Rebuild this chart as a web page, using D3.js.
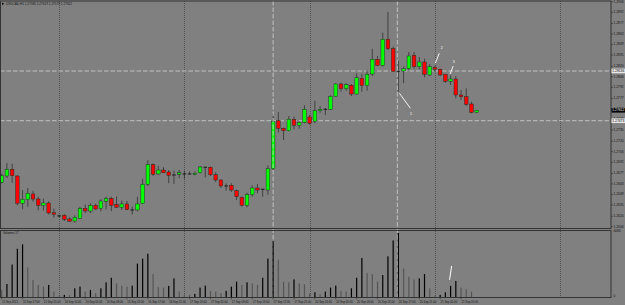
<!DOCTYPE html>
<html lang="en">
<head>
    <meta charset="UTF-8">
    <title>USDCAD,H1</title>
    <script src="https://d3js.org/d3.v7.min.js"></script>
    <style>
        body { margin: 0; background: #808080; }
        svg { display: block; }
        text { font-family: "Liberation Sans", Arial, sans-serif; }
    </style>
</head>
<body>
    <svg width="625" height="305"></svg>

    <script>
        // USDCAD H1 candles (index 0 = 15 Sep 13:00)
        const opens = [1.26652,1.26736,1.26825,1.26736,1.26372,1.26425,1.26496,1.26429,1.26345,1.26376,
            1.26247,1.26203,1.26212,1.26163,1.26136,1.26172,1.26305,1.26269,1.26345,1.26305,
            1.26399,1.26436,1.26356,1.26319,1.26363,1.26283,1.26283,1.26369,1.26625,1.26887,
            1.26763,1.26816,1.26789,1.26749,1.26759,1.26763,1.26763,1.26763,1.26780,1.26853,
            1.26852,1.26753,1.26683,1.26603,1.26612,1.26540,1.26452,1.26345,1.26487,1.26576,
            1.26559,1.26549,1.26833,1.27473,1.27372,1.27340,1.27492,1.27412,1.27452,1.27523,
            1.27465,1.27607,1.27625,1.27625,1.27799,1.27963,1.27900,1.27945,1.27829,1.28040,
            1.27943,1.28096,1.28292,1.28212,1.28559,1.28433,1.28132,1.28136,1.28167,1.28345,
            1.28194,1.28256,1.28083,1.28185,1.28159,1.28092,1.27999,1.28029,1.27816,1.27793,
            1.27696,1.27585];
        const highs = [1.26769,1.26909,1.26900,1.26749,1.26549,1.26576,1.26540,1.26460,1.26436,1.26399,
            1.26300,1.26220,1.26229,1.26185,1.26212,1.26327,1.26356,1.26372,1.26369,1.26425,
            1.26460,1.26460,1.26463,1.26407,1.26403,1.26327,1.26460,1.26699,1.26949,1.26905,
            1.26873,1.26852,1.26816,1.26807,1.26816,1.26807,1.26799,1.26799,1.26869,1.26860,
            1.26863,1.26789,1.26689,1.26639,1.26639,1.26556,1.26463,1.26513,1.26612,1.26629,
            1.26569,1.26879,1.27572,1.27589,1.27383,1.27536,1.27527,1.27463,1.27679,1.27549,
            1.27740,1.27669,1.27643,1.27812,1.27972,1.27980,1.27972,1.27963,1.28105,1.28100,
            1.28149,1.28433,1.28336,1.28647,1.28923,1.28460,1.28273,1.28194,1.28389,1.28389,
            1.28319,1.28300,1.28229,1.28203,1.28167,1.28099,1.28079,1.28069,1.27883,1.27905,
            1.27723,1.27619];
        const lows = [1.26636,1.26709,1.26643,1.26345,1.26292,1.26327,1.26393,1.26279,1.26276,1.26223,
            1.26180,1.26185,1.26136,1.26123,1.26113,1.26167,1.26243,1.26239,1.26283,1.26265,
            1.26289,1.26267,1.26309,1.26283,1.26280,1.26223,1.26265,1.26363,1.26603,1.26736,
            1.26749,1.26776,1.26639,1.26629,1.26705,1.26700,1.26753,1.26745,1.26772,1.26719,
            1.26736,1.26656,1.26576,1.26540,1.26523,1.26416,1.26327,1.26319,1.26460,1.26505,
            1.26460,1.26487,1.26816,1.27313,1.27216,1.27332,1.27359,1.27367,1.27439,1.27420,
            1.27439,1.27580,1.27549,1.27616,1.27793,1.27860,1.27873,1.27803,1.27820,1.27860,
            1.27873,1.28069,1.28203,1.28194,1.28416,1.28123,1.27860,1.27972,1.28149,1.28167,
            1.28159,1.28052,1.28069,1.28132,1.28069,1.27980,1.27949,1.27772,1.27749,1.27669,
            1.27572,1.27579];
        const closes = [1.26740,1.26825,1.26740,1.26372,1.26425,1.26505,1.26429,1.26345,1.26376,1.26243,
            1.26225,1.26203,1.26159,1.26132,1.26185,1.26305,1.26269,1.26343,1.26296,1.26403,
            1.26436,1.26345,1.26320,1.26363,1.26289,1.26283,1.26363,1.26625,1.26887,1.26760,
            1.26816,1.26780,1.26745,1.26749,1.26780,1.26763,1.26763,1.26772,1.26856,1.26853,
            1.26753,1.26683,1.26603,1.26603,1.26549,1.26460,1.26345,1.26487,1.26576,1.26549,
            1.26559,1.26833,1.27465,1.27372,1.27340,1.27492,1.27412,1.27452,1.27625,1.27439,
            1.27607,1.27625,1.27625,1.27799,1.27963,1.27900,1.27953,1.27829,1.28047,1.27943,
            1.28092,1.28292,1.28212,1.28559,1.28433,1.28132,1.28132,1.28167,1.28336,1.28194,
            1.28256,1.28092,1.28194,1.28159,1.28083,1.27999,1.28029,1.27816,1.27793,1.27692,
            1.27585,1.27612];
        // tick volumes
        const volumes = [462,822,1998,2958,3222,1818,1062,762,660,762,
            360,120,162,150,558,660,360,462,258,558,
            918,1200,858,702,660,720,2058,2358,2658,1422,
            618,600,702,1158,360,180,162,222,600,720,
            402,360,258,402,660,960,762,918,858,762,
            1200,2358,3420,2298,960,918,1098,858,798,240,
            318,198,360,600,720,402,360,558,1200,2400,
            1500,1422,960,1362,2502,3462,3918,1758,1260,1098,
            1158,1422,558,120,162,318,702,1002,600,498,
            360,17];

        const timeTickIdx = [0,4,8,12,16,20,24,28,32,36,40,44,48,52,56,60,64,68,72,76,80,84,88];
        const timeLabels = ["15 Sep 2021","15 Sep 17:00","15 Sep 21:00","16 Sep 01:00","16 Sep 05:00",
            "16 Sep 09:00","16 Sep 13:00","16 Sep 17:00","16 Sep 21:00","17 Sep 01:00","17 Sep 05:00",
            "17 Sep 09:00","17 Sep 13:00","17 Sep 17:00","17 Sep 21:00","20 Sep 01:00","20 Sep 05:00",
            "20 Sep 09:00","20 Sep 13:00","20 Sep 17:00","20 Sep 21:00","21 Sep 01:00","21 Sep 05:00"];
        const priceTicks = [1.2906,1.2892,1.2877,1.2863,1.2849,1.2835,1.2820,1.2806,1.2792,1.2777,1.2763,
            1.2749,1.2735,1.2720,1.2706,1.2692,1.2677,1.2663,1.2649,1.2635,1.2620,1.2606];
        const daySeparators = [11, 35, 59, 83, 107];
        const hLines = [1.28136, 1.27473];
        const vLines = [52, 75.8];
        const bidPrice = 1.27612;
        const volumeMax = 4065;

        // hand-drawn trend lines with their numbers
        const noteLabels = ["1", "2", "3"];
        const noteFrom = [[76.2, 1.27839], [83.06, 1.28239], [85.9, 1.28096]];
        const noteTo = [[78.3, 1.27639], [83.83, 1.28372], [86.5, 1.28203]];
        const notePos = [[78.4, 1.27565], [84.3, 1.28440], [86.6, 1.28262]];
        const volNote = [[85.8, 1070], [86.2, 1918]];

        const svg = d3.select('svg');
        const width = +svg.attr('width');
        const height = +svg.attr('height');
        const plotRight = 611;
        const mainTop = 1, mainBottom = 228.5;
        const volTop = 230.5, volBottom = 297.5;

        const x = d3.scaleLinear().domain([0, 91]).range([1.7, 476.7]);
        const y = d3.scaleLinear().domain([1.2606, 1.2906]).range([226.7, 1.7]);
        const yv = d3.scaleLinear().domain([0, volumeMax]).range([volBottom, volTop]);

        const bars = opens.map((o, i) => ({i, o, h: highs[i], l: lows[i], c: closes[i], v: volumes[i]}));

        svg.append('rect').attr('width', width).attr('height', height).attr('fill', '#808080');

        svg.append('clipPath').attr('id', 'mainClip').append('rect')
            .attr('x', 0).attr('y', mainTop).attr('width', plotRight).attr('height', mainBottom - mainTop);

        // day separators through both panels
        svg.selectAll('.sep').data(daySeparators).enter().append('line')
            .attr('x1', d => Math.round(x(d)) + 0.5).attr('x2', d => Math.round(x(d)) + 0.5)
            .attr('y1', mainTop).attr('y2', volBottom)
            .attr('stroke', '#3c3c3c').attr('stroke-width', 0.7).attr('stroke-dasharray', '1,1');

        const main = svg.append('g').attr('clip-path', 'url(#mainClip)');

        main.selectAll('.hl').data(hLines).enter().append('line')
            .attr('x1', 0).attr('x2', plotRight)
            .attr('y1', d => y(d)).attr('y2', d => y(d))
            .attr('stroke', '#d2d2d2').attr('stroke-width', 0.8).attr('stroke-dasharray', '4.5,2');

        svg.selectAll('.vl').data(vLines).enter().append('line')
            .attr('x1', d => x(d)).attr('x2', d => x(d))
            .attr('y1', mainTop).attr('y2', volBottom)
            .attr('stroke', '#d2d2d2').attr('stroke-width', 0.8).attr('stroke-dasharray', '4.5,2');

        // wicks
        main.selectAll('.wick').data(bars).enter().append('line')
            .attr('x1', d => x(d.i)).attr('x2', d => x(d.i))
            .attr('y1', d => y(d.h)).attr('y2', d => y(d.l))
            .attr('stroke', '#262626').attr('stroke-width', 0.7);

        const isDoji = d => Math.abs(d.c - d.o) < 0.00004;
        const bodyW = 3.6;

        main.selectAll('.body').data(bars.filter(d => !isDoji(d))).enter().append('rect')
            .attr('x', d => x(d.i) - bodyW / 2)
            .attr('y', d => y(Math.max(d.o, d.c)))
            .attr('width', bodyW)
            .attr('height', d => Math.max(1, Math.abs(y(d.o) - y(d.c))))
            .attr('fill', d => d.c > d.o ? '#00ff00' : '#ff0000')
            .attr('stroke', '#1e2a1e').attr('stroke-width', 0.45);

        main.selectAll('.doji').data(bars.filter(isDoji)).enter().append('line')
            .attr('x1', d => x(d.i) - bodyW / 2).attr('x2', d => x(d.i) + bodyW / 2)
            .attr('y1', d => y(d.c)).attr('y2', d => y(d.c))
            .attr('stroke', '#111').attr('stroke-width', 0.9);

        // volumes: black when rising, grey when falling
        svg.selectAll('.vol').data(bars).enter().append('rect')
            .attr('x', d => x(d.i) - 0.6)
            .attr('y', d => yv(d.v))
            .attr('width', 1.2)
            .attr('height', d => volBottom - yv(d.v))
            .attr('fill', (d, i) => i > 0 && d.v > volumes[i - 1] ? '#000' : '#555');

        // frames
        svg.append('rect').attr('x', 0.5).attr('y', mainTop).attr('width', plotRight - 0.5)
            .attr('height', mainBottom - mainTop).attr('fill', 'none').attr('stroke', '#333').attr('stroke-width', 1);
        svg.append('rect').attr('x', 0.5).attr('y', volTop).attr('width', plotRight - 0.5)
            .attr('height', volBottom - volTop).attr('fill', 'none').attr('stroke', '#333').attr('stroke-width', 1);

        // price axis
        const pa = svg.append('g');
        pa.selectAll('.pt').data(priceTicks).enter().append('line')
            .attr('x1', plotRight).attr('x2', plotRight + 2)
            .attr('y1', d => y(d)).attr('y2', d => y(d))
            .attr('stroke', '#222').attr('stroke-width', 0.5);
        pa.selectAll('.pl').data(priceTicks).enter().append('text')
            .attr('x', plotRight + 2.5).attr('y', d => y(d))
            .attr('dominant-baseline', 'middle')
            .attr('font-size', 3.3).attr('fill', '#151515')
            .text(d => d.toFixed(4));

        // highlighted price labels
        const tags = hLines.map(p => ({p, bg: '#e8e8e8', fg: '#000'}))
            .concat([{p: bidPrice, bg: '#000', fg: '#fff'}]);
        tags.forEach(t => {
            pa.append('rect').attr('x', plotRight + 0.5).attr('y', y(t.p) - 2.3)
                .attr('width', 13.5).attr('height', 4.6).attr('fill', t.bg);
            pa.append('text').attr('x', plotRight + 1.3).attr('y', y(t.p))
                .attr('dominant-baseline', 'middle').attr('font-size', 3.3).attr('fill', t.fg)
                .text(t.p.toFixed(5));
        });

        // volume axis
        pa.append('text').attr('x', plotRight + 2.5).attr('y', yv(volumeMax) + 1)
            .attr('dominant-baseline', 'middle').attr('font-size', 3.3).attr('fill', '#151515')
            .text(volumeMax);
        pa.append('text').attr('x', plotRight + 2.5).attr('y', yv(0) - 1)
            .attr('dominant-baseline', 'middle').attr('font-size', 3.3).attr('fill', '#151515')
            .text('0');

        // time axis
        const ta = svg.append('g');
        ta.selectAll('.tt').data(timeTickIdx).enter().append('line')
            .attr('x1', d => x(d)).attr('x2', d => x(d))
            .attr('y1', volBottom).attr('y2', volBottom + 1.8)
            .attr('stroke', '#222').attr('stroke-width', 0.5);
        ta.selectAll('.tl').data(timeTickIdx).enter().append('text')
            .attr('x', d => x(d) + 0.4).attr('y', volBottom + 5)
            .attr('font-size', 2.8).attr('fill', '#151515')
            .text((d, i) => timeLabels[i]);

        // window captions
        svg.append('path').attr('d', 'M2,2.6 L4.4,3.8 L2,5 Z').attr('fill', '#000');
        svg.append('text').attr('x', 6).attr('y', 4.9).attr('font-size', 3.1).attr('fill', '#151515')
            .text(`USDCAD,H1  ${opens[91].toFixed(5)} ${highs[91].toFixed(5)} ${lows[91].toFixed(5)} ${closes[91].toFixed(5)}`);
        svg.append('text').attr('x', 3).attr('y', volTop + 3).attr('font-size', 3).attr('fill', '#151515')
            .text(`Volumes ${volumes[91]}`);

        // white trend-line notes
        main.selectAll('.note').data(noteLabels).enter().append('line')
            .attr('x1', (d, i) => x(noteFrom[i][0])).attr('y1', (d, i) => y(noteFrom[i][1]))
            .attr('x2', (d, i) => x(noteTo[i][0])).attr('y2', (d, i) => y(noteTo[i][1]))
            .attr('stroke', '#fff').attr('stroke-width', 0.9);
        main.selectAll('.noteText').data(noteLabels).enter().append('text')
            .attr('x', (d, i) => x(notePos[i][0])).attr('y', (d, i) => y(notePos[i][1]))
            .attr('text-anchor', 'middle').attr('dominant-baseline', 'middle')
            .attr('font-size', 3.6).attr('fill', '#fff')
            .text(d => d);
        svg.append('line')
            .attr('x1', x(volNote[0][0])).attr('y1', yv(volNote[0][1]))
            .attr('x2', x(volNote[1][0])).attr('y2', yv(volNote[1][1]))
            .attr('stroke', '#fff').attr('stroke-width', 1);
    </script>
</body>
</html>
